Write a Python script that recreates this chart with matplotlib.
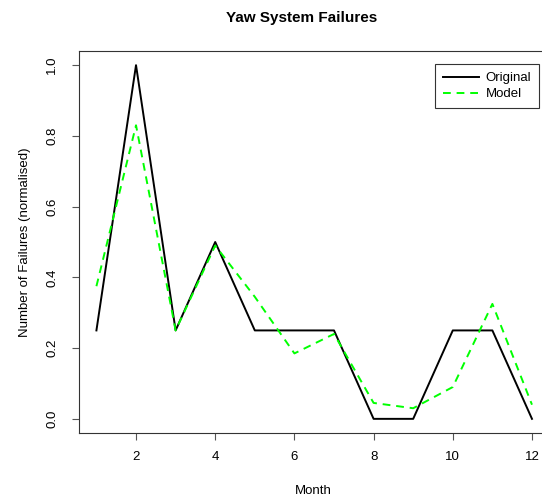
import matplotlib
matplotlib.use('Agg')
import matplotlib.pyplot as plt

plt.rcParams['font.family'] = ['Liberation Sans', 'DejaVu Sans']

# =========================
# DATA
# =========================

months = list(range(1, 13))

original = [0.25, 1.0, 0.25, 0.5, 0.25, 0.25, 0.25, 0.0, 0.0, 0.25, 0.25, 0.0]

model = [0.375, 0.83, 0.25, 0.49, 0.345, 0.185, 0.24, 0.045, 0.03, 0.09, 0.325, 0.04]

x_ticks = [2, 4, 6, 8, 10, 12]
y_ticks = [0.0, 0.2, 0.4, 0.6, 0.8, 1.0]

W, H = 542, 500

fig = plt.figure(figsize=(W / 100, H / 100), dpi=100)

# R-style box that runs past the right edge of the canvas
ax = fig.add_axes([79 / W, 67 / H, 470.4 / W, 382 / H])

ax.plot(months, original, color='black', linewidth=1.4, label='Original')

ax.plot(
    months,
    model,
    color='#00ff00',
    linewidth=1.4,
    linestyle=(0, (4, 3)),
    label='Model'
)

ax.set_xlim(0.56, 12.44)
ax.set_ylim(-0.04, 1.04)

ax.set_xticks(x_ticks)
ax.set_xticklabels([str(t) for t in x_ticks])
ax.set_yticks(y_ticks)
ax.set_yticklabels([f'{t:.1f}' for t in y_ticks], rotation=90, va='center')

ax.tick_params(axis='both', direction='out', length=5, width=0.8,
               color='#555555', labelsize=9.5)
ax.tick_params(axis='x', pad=8)
ax.tick_params(axis='y', pad=10)

for side in ['left', 'bottom', 'top', 'right']:
    ax.spines[side].set_linewidth(0.8)
    ax.spines[side].set_color('#333333')

leg = ax.legend(
    loc='upper right',
    bbox_to_anchor=(539 / W, 1 - 64 / H),
    bbox_transform=fig.transFigure,
    borderaxespad=0,
    fontsize=9.5,
    fancybox=False,
    edgecolor='#333333',
    framealpha=1,
    handlelength=2.7,
    handletextpad=0.5,
    borderpad=0.6,
    labelspacing=0.3
)
leg.get_frame().set_linewidth(0.8)

fig.text(302 / W, 1 - 18 / H, 'Yaw System Failures',
         ha='center', va='center', fontsize=11, fontweight='bold')

fig.text(313 / W, 1 - 491 / H, 'Month',
         ha='center', va='center', fontsize=9.5)

fig.text(25 / W, 1 - 242 / H, 'Number of Failures (normalised)',
         ha='center', va='center', rotation=90, fontsize=9.5)

fig.savefig('out.png', dpi=100)
